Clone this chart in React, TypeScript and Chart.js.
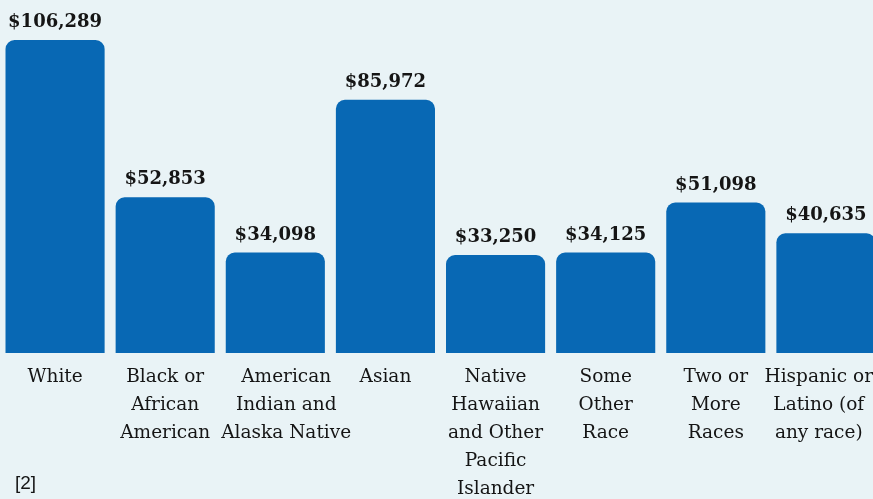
import React, { useEffect, useRef } from "react";
import { Chart, registerables } from "chart.js";

Chart.register(...registerables);

const categories: string[][] = [
  ["White"],
  ["Black or", "African", "American"],
  ["American", "Indian and", "Alaska Native"],
  ["Asian"],
  ["Native", "Hawaiian", "and Other", "Pacific", "Islander"],
  ["Some", "Other", "Race"],
  ["Two or", "More", "Races"],
  ["Hispanic or", "Latino (of", "any race)"],
];
const values: number[] = [106289, 52853, 34098, 85972, 33250, 34125, 51098, 40635];
const valueLabels: string[] = values.map((v) => "$" + v.toLocaleString("en-US"));
const footnote = "[2]";

const VIEW_W = 873;
const BG = "#e9f3f6";
const BAR = "#0868b4";
const TEXT = "#151515";

const valueLabelPlugin = {
  id: "valueLabels",
  afterDatasetsDraw(chart: any) {
    const ctx = chart.ctx;
    const meta = chart.getDatasetMeta(0);
    ctx.save();
    ctx.font = "bold 18px 'DejaVu Serif'";
    ctx.fillStyle = TEXT;
    ctx.textAlign = "center";
    ctx.textBaseline = "alphabetic";
    meta.data.forEach((bar: any, i: number) => {
      ctx.fillText(valueLabels[i], bar.x, bar.y - 13);
    });
    ctx.restore();
  },
};

// Category labels laid out like wrapped HTML blocks: centred in their column,
// overflowing to the right when too wide, and kept inside the visible area.
const categoryLabelPlugin = {
  id: "categoryLabels",
  afterDraw(chart: any) {
    const ctx = chart.ctx;
    const scale = chart.scales.x;
    const n = categories.length;
    const colW = scale.width / n;
    const lineH = 28;
    const firstBaseline = chart.chartArea.bottom + 29;
    ctx.save();
    ctx.font = "18.5px 'DejaVu Serif'";
    ctx.fillStyle = TEXT;
    ctx.textAlign = "center";
    ctx.textBaseline = "alphabetic";
    categories.forEach((lines, i) => {
      const x = scale.getPixelForValue(i);
      const maxW = Math.max(...lines.map((l) => ctx.measureText(l).width));
      let cx = x;
      if (maxW > colW - 2) cx = x - colW / 2 + 1 + maxW / 2;
      cx = Math.min(cx, VIEW_W - maxW / 2);
      lines.forEach((l, k) => ctx.fillText(l, cx, firstBaseline + k * lineH));
    });
    ctx.restore();
  },
};

export default function App() {
  const ref = useRef<HTMLCanvasElement | null>(null);
  useEffect(() => {
    if (!ref.current) return;
    const chart = new Chart(ref.current, {
      type: "bar",
      data: {
        labels: categories.map((c) => c.join(" ")),
        datasets: [
          {
            data: values,
            backgroundColor: BAR,
            borderRadius: 9,
            borderSkipped: "start",
            barPercentage: 0.9,
            categoryPercentage: 1.0,
          },
        ],
      },
      options: {
        responsive: false,
        animation: false,
        devicePixelRatio: 1,
        layout: { padding: { top: 40, left: 0, right: 0, bottom: 0 } },
        plugins: {
          legend: { display: false },
          tooltip: { enabled: false },
        },
        scales: {
          x: {
            grid: { display: false, drawTicks: false },
            border: { display: false },
            ticks: { display: false },
            afterFit: (scale: any) => {
              scale.height = 146;
              scale.paddingLeft = 0;
              scale.paddingRight = 0;
            },
          },
          y: {
            display: false,
            min: 0,
            max: Math.max(...values),
          },
        },
      },
      plugins: [valueLabelPlugin, categoryLabelPlugin],
    });
    return () => chart.destroy();
  }, []);

  return (
    <div
      style={{
        position: "fixed",
        left: 0,
        top: 0,
        width: VIEW_W,
        height: 499,
        overflow: "hidden",
        background: BG,
      }}
    >
      <canvas ref={ref} width={881} height={499} style={{ display: "block" }} />
      <div
        style={{
          position: "absolute",
          left: 15,
          top: 471,
          fontFamily: "'Liberation Sans', Arial, sans-serif",
          fontSize: 19,
          lineHeight: "24px",
          color: TEXT,
        }}
      >
        {footnote}
      </div>
    </div>
  );
}
